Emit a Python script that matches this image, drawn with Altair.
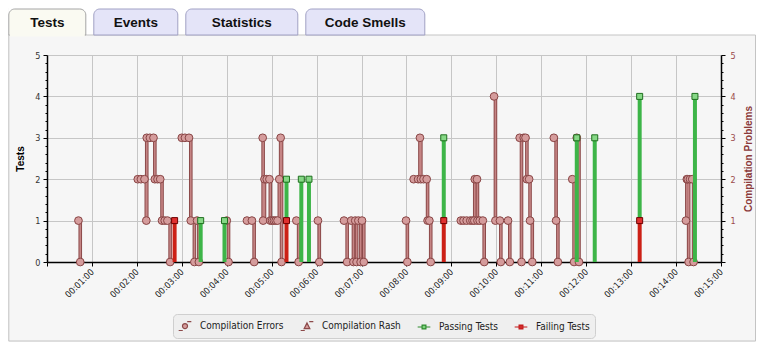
import json
import altair as alt
import pandas as pd

# ---------------- data ----------------
err_t = [0.70, 0.74,
         2.02, 2.09, 2.17, 2.21, 2.22, 2.29, 2.37, 2.40, 2.46, 2.52, 2.56, 2.62, 2.68, 2.74,
         3.00, 3.07, 3.16, 3.20, 3.28,
         3.34, 3.38,
         4.00, 4.04,
         4.45, 4.56, 4.61,
         4.80, 4.81, 4.84, 4.89, 4.95, 4.97, 5.01, 5.05, 5.09, 5.13, 5.17, 5.20, 5.22,
         5.55, 5.60,
         6.03, 6.06,
         6.61, 6.68,
         6.77, 6.82,
         6.86, 6.89,
         6.93, 6.98,
         7.01, 7.05,
         7.99, 8.02,
         8.16, 8.26, 8.30, 8.32, 8.38, 8.45, 8.47, 8.51, 8.54,
         9.21, 9.27, 9.34, 9.42, 9.47, 9.51, 9.52, 9.57, 9.58, 9.63, 9.70, 9.73,
         9.95, 9.98, 10.08, 10.10,
         10.26, 10.30,
         10.52, 10.56,
         10.61, 10.65, 10.68, 10.73, 10.75, 10.80,
         11.28, 11.33, 11.37,
         11.69, 11.73,
         11.79, 11.84,
         14.22, 14.24, 14.26, 14.28,
         14.31, 14.36, 14.39]
err_v = [1, 0,
         2, 2, 2, 1, 3, 3, 3, 2, 2, 2, 1, 1, 1, 0,
         3, 3, 3, 1, 0,
         1, 0,
         1, 0,
         1, 1, 0,
         3, 1, 2, 2, 2, 1, 1, 1, 1, 1, 2, 3, 0,
         1, 0,
         1, 0,
         1, 0,
         1, 0,
         1, 0,
         1, 0,
         1, 0,
         1, 0,
         2, 2, 3, 2, 2, 2, 1, 1, 0,
         1, 1, 1, 1, 1, 1, 2, 2, 1, 1, 1, 0,
         4, 1, 1, 0,
         1, 0,
         3, 0,
         3, 3, 2, 2, 1, 0,
         3, 1, 0,
         2, 0,
         3, 0,
         1, 2, 2, 0,
         2, 2, 0]

fail_t = [2.84, 5.33, 8.83, 13.19]
fail_v = [1, 1, 1, 1]
pass_t = [3.42, 3.95, 5.33, 5.66, 5.83, 8.83, 11.79, 12.19, 13.19, 14.42]
pass_v = [1, 1, 1, 2, 2, 2, 3, 3, 3, 4]

series = ["Compilation Errors", "Compilation Rash", "Passing Tests", "Failing Tests"]
tick_minutes = list(range(0, 16))
tick_labels = [""] + ["00:%02d:00" % m for m in range(1, 16)]
tabs = ["Tests", "Events", "Statistics", "Code Smells"]

# ---------------- tables ----------------
seg, s = [], 0
for v in err_v:
    seg.append(s)
    if v == 0:
        s += 1
err_df = pd.DataFrame({"t": err_t, "v": err_v, "seg": seg})

fail_map = dict(zip(fail_t, fail_v))
fail_df = pd.DataFrame({"t": fail_t, "y0": [0] * len(fail_t), "y1": fail_v})
p0 = [fail_map.get(t, 0) for t in pass_t]
pass_df = pd.DataFrame({"t": pass_t, "y0": p0, "y1": [b + v for b, v in zip(p0, pass_v)]})

# ---------------- styling ----------------
W, H = 674, 207
LEFT, RIGHT, TOP, STRIP, BOTTOM = -38.7, 709, -47, -20, 286
LF = "DejaVu Sans Condensed, DejaVu Sans"
TF = "Liberation Sans, Arial, sans-serif"
minor = [round(i * 0.2, 1) for i in range(26)]
cond = "datum.value % 1 === 0"

x_axis = alt.Axis(values=tick_minutes, labelExpr=json.dumps(tick_labels) + "[datum.value]",
                  labelAngle=315, labelAlign="right", labelBaseline="middle", labelPadding=4,
                  labelFont=LF, labelFontSize=9, labelColor="#222", labelOverlap=False, labelFlush=False,
                  tickSize=4, tickColor="#000", domainColor="#000", domainWidth=1.5,
                  grid=True, gridColor="#c6c6c6", gridWidth=1, title=None)
left_axis = alt.Axis(values=minor, title="Tests", titleFont=TF, titleFontSize=10, titleFontWeight="bold",
                     titleColor="#000", titlePadding=9,
                     labelExpr=f"{cond} ? '' + datum.value : ''", labelFont=LF, labelFontSize=9,
                     labelColor="#333", labelPadding=3, labelOverlap=False, labelFlush=False,
                     tickSize={"condition": {"test": cond, "value": 4}, "value": 2},
                     tickColor="#000", domainColor="#000", domainWidth=1.5,
                     grid=True, gridColor="#c6c6c6", gridWidth=1,
                     gridOpacity={"condition": {"test": cond, "value": 1}, "value": 0})
right_axis = alt.Axis(orient="right", values=minor, title="Compilation Problems", titleFont=TF,
                      titleFontSize=10, titleFontWeight="bold", titleColor="#8b3a3a", titleAngle=270,
                      titleBaseline="top", titlePadding=8,
                      labelExpr=f"{cond} && datum.value > 0 ? '' + datum.value : ''", labelFont=LF,
                      labelFontSize=9, labelColor="#9b4a4a", labelPadding=5, labelOverlap=False,
                      labelFlush=False,
                      tickSize={"condition": {"test": cond, "value": 4}, "value": 2},
                      tickColor="#000", domainColor="#000", domainWidth=1.5, grid=False)

xs = alt.Scale(domain=[0, 15], nice=False, zero=False)
ys = alt.Scale(domain=[0, 5], nice=False)
X = alt.X("t:Q", scale=xs, axis=x_axis)
YR = alt.Y("v:Q", scale=ys, axis=right_axis)
YL = alt.Y("y1:Q", scale=ys, axis=left_axis)

# ---------------- compilation errors (right scale) ----------------
base_err = alt.Chart(err_df)
err_outer = base_err.mark_line(color="#8c4a4a", strokeWidth=3.6, interpolate="step-after").encode(
    x=X, y=YR, detail="seg:N", order="t:Q")
err_inner = base_err.mark_line(color="#c58484", strokeWidth=1.6, interpolate="step-after").encode(
    x=X, y=YR, detail="seg:N", order="t:Q")
err_pts = base_err.mark_circle(size=60, color="#d59c9c", stroke="#884444", strokeWidth=1,
                               opacity=1).encode(x=X, y=YR)

leg = alt.Legend(title=None, orient="none", legendX=126, legendY=259, direction="horizontal",
                 fillColor="#efefef", strokeColor="#cfcfcf", cornerRadius=4, padding=5,
                 labelFont=LF, labelFontSize=10, labelColor="#222", symbolSize=160,
                 symbolStrokeWidth=1.2, columnPadding=14, labelOffset=8)
paths = [
    "M-1,0.7H-0.35M0.35,-0.7H1M0.4,0A0.4,0.4,0,1,1,-0.4,0A0.4,0.4,0,1,1,0.4,0Z",
    "M-1,0.7H-0.35M0.35,-0.7H1M0,-0.5L0.45,0.4H-0.45Z",
    "M-1,0H-0.3M0.3,0H1M-0.3,-0.3H0.3V0.3H-0.3Z",
    "M-1,0H-0.3M0.3,0H1M-0.3,-0.3H0.3V0.3H-0.3Z",
]
leg_layer = alt.Chart(pd.DataFrame({"series": series})).transform_filter("false").mark_point(
    filled=True, opacity=1, strokeWidth=1.2).encode(
    fill=alt.Fill("series:N", scale=alt.Scale(domain=series,
                  range=["#d59c9c", "#d59c9c", "#7fd47f", "#d42a2a"]), legend=leg),
    stroke=alt.Stroke("series:N", scale=alt.Scale(domain=series,
                      range=["#8c4a4a", "#8c4a4a", "#2e8b2e", "#c41a1a"]), legend=leg),
    shape=alt.Shape("series:N", scale=alt.Scale(domain=series, range=paths), legend=leg),
)

right_group = alt.layer(err_outer, err_inner, err_pts, leg_layer)

# ---------------- tests (left scale) ----------------
fail_rule = alt.Chart(fail_df).mark_rule(strokeWidth=4, color="#cc2016").encode(
    x=X, y=YL, y2=alt.Y2("y0:Q"))
pass_rule = alt.Chart(pass_df).mark_rule(strokeWidth=4, color="#3db548").encode(
    x=X, y=YL, y2=alt.Y2("y0:Q"))
fail_sq = alt.Chart(fail_df).mark_square(size=36, color="#e03030", stroke="#6e0000",
                                         strokeWidth=1, opacity=1).encode(x=X, y=YL)
pass_sq = alt.Chart(pass_df).mark_square(size=36, color="#86d886", stroke="#1f6f1f",
                                         strokeWidth=1, opacity=1).encode(x=X, y=YL)
left_group = alt.layer(fail_rule, pass_rule, fail_sq, pass_sq)

# ---------------- tab strip decoration ----------------
one = pd.DataFrame({"a": [0]})
deco = [
    alt.Chart(one).mark_rect(color="#ffffff").encode(
        x=alt.value(LEFT), x2=alt.value(RIGHT), y=alt.value(TOP), y2=alt.value(STRIP)),
    alt.Chart(one).mark_rect(fillOpacity=0, stroke="#c4c4c4", strokeWidth=1).encode(
        x=alt.value(LEFT + 0.5), x2=alt.value(RIGHT - 0.5), y=alt.value(STRIP), y2=alt.value(BOTTOM)),
]
tx = LEFT + 0.5
for i, name in enumerate(tabs):
    w = 7 * len(name) + 42
    active = i == 0
    deco.append(alt.Chart(one).mark_rect(
        color="#fafaf2" if active else "#e4e4f8",
        stroke="#a4a4a4" if active else "#a0a0c4", strokeWidth=1,
        cornerRadiusTopLeft=6, cornerRadiusTopRight=6).encode(
        x=alt.value(tx), x2=alt.value(tx + w), y=alt.value(TOP + 1), y2=alt.value(STRIP)))
    if active:
        deco.append(alt.Chart(one).mark_rect(color="#fafaf2").encode(
            x=alt.value(tx + 1), x2=alt.value(tx + w - 1),
            y=alt.value(STRIP - 1), y2=alt.value(STRIP + 1.5)))
    deco.append(alt.Chart(pd.DataFrame({"label": [name]})).mark_text(
        font=TF, fontSize=13.5, fontWeight="bold", color="#111", align="center",
        baseline="middle").encode(
        x=alt.value(tx + w / 2), y=alt.value((TOP + 1 + STRIP) / 2 + 1), text="label:N"))
    tx += w + 8

chart = alt.layer(*deco, right_group, left_group).resolve_scale(y="independent").properties(
    width=W, height=H, padding=0, background="#f6f6f6"
).configure_view(fill="#fcfcfc", strokeWidth=0)

chart.save("out.html", embed_options={"renderer": "svg", "actions": False})
